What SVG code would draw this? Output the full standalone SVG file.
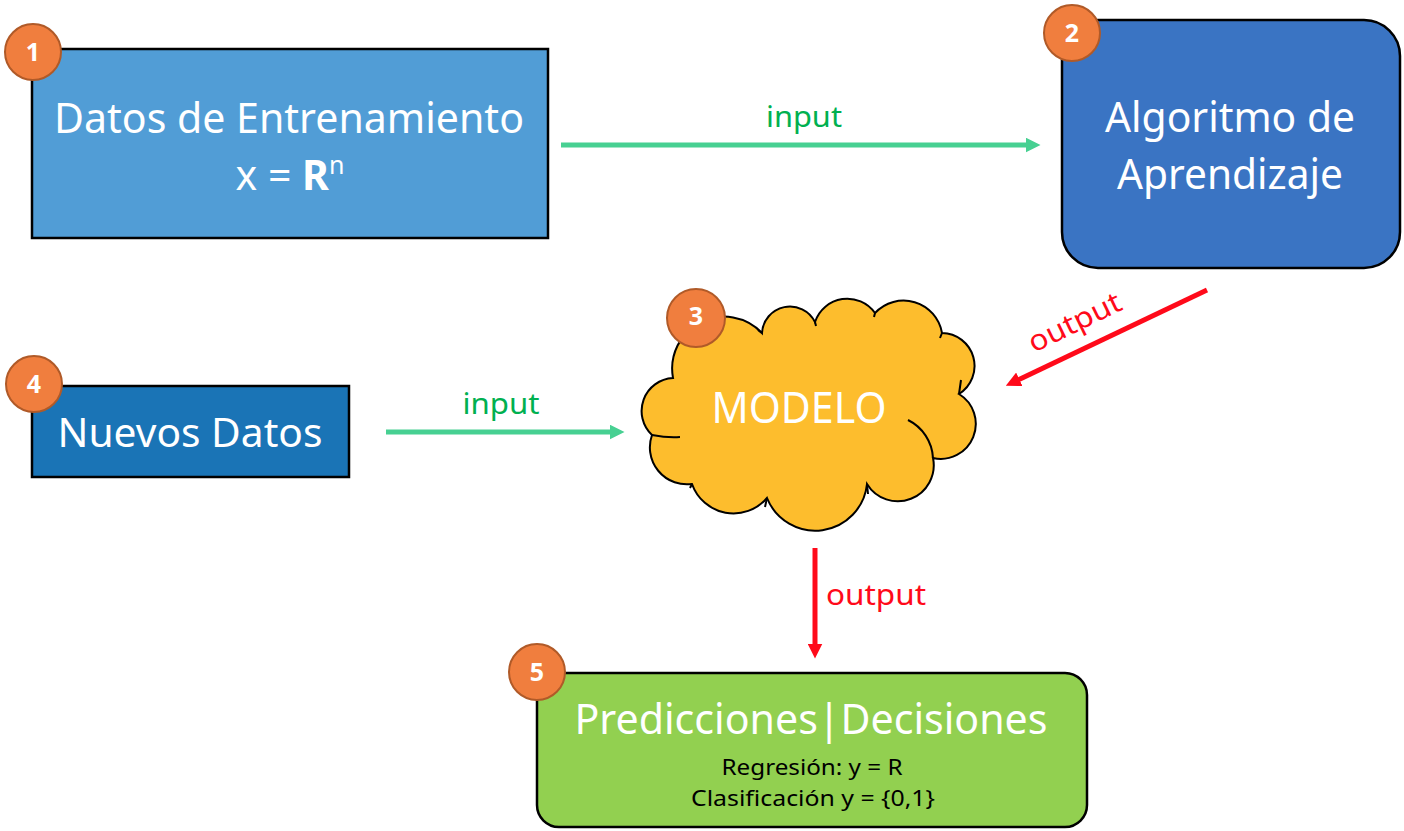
<svg xmlns="http://www.w3.org/2000/svg" width="1404" height="831" viewBox="0 0 1404 831">
<style>
.box{stroke:#000;stroke-width:2.5}
.big{font-family:"Noto Sans","Open Sans",sans-serif;fill:#fff;text-anchor:middle}
.small{font-family:"Noto Sans","Open Sans",sans-serif;fill:#000;text-anchor:middle;font-size:22px}
.badge circle{fill:#F07E3E;stroke:#B05A28;stroke-width:2}
.badge text{font-family:"Noto Sans","Open Sans",sans-serif;font-weight:bold;fill:#fff;text-anchor:middle;font-size:25px}
.g{stroke:#47D092;stroke-width:5;fill:none}
.r{stroke:#FF0A1A;stroke-width:5;fill:none}
.gl{font-family:"Noto Sans","Open Sans",sans-serif;fill:#00B050;font-size:29px;text-anchor:middle}
.rl{font-family:"Noto Sans","Open Sans",sans-serif;fill:#FF0A1A;font-size:29px;text-anchor:middle}
</style>
<defs>
<marker id="ag" viewBox="0 0 10 10" refX="1" refY="5" markerWidth="3" markerHeight="3" orient="auto"><path d="M0,0 L10,5 L0,10 z" fill="#47D092"/></marker>
<marker id="ar" viewBox="0 0 10 10" refX="1" refY="5" markerWidth="3" markerHeight="3" orient="auto"><path d="M0,0 L10,5 L0,10 z" fill="#FF0A1A"/></marker>
</defs>
<rect width="1404" height="831" fill="#fff"/>

<g id="connectors">
<line class="g" x1="561" y1="145" x2="1027" y2="145" marker-end="url(#ag)"/>
<text class="gl" x="804" y="127" textLength="76" lengthAdjust="spacingAndGlyphs">input</text>
<line class="g" x1="386" y1="432" x2="611" y2="432" marker-end="url(#ag)"/>
<text class="gl" x="501" y="414" textLength="77" lengthAdjust="spacingAndGlyphs">input</text>
<line class="r" x1="1207" y1="290" x2="1018" y2="380" marker-end="url(#ar)"/>
<text class="rl" transform="translate(1079,331) rotate(-26)" textLength="100" lengthAdjust="spacingAndGlyphs">output</text>
<line class="r" x1="815" y1="548" x2="815" y2="645" marker-end="url(#ar)"/>
<text class="rl" x="876" y="605" textLength="100" lengthAdjust="spacingAndGlyphs">output</text>
</g>

<g id="node1">
<rect class="box" x="32" y="49" width="516" height="189" fill="#519DD6"/>
<text class="big" x="289" y="133" font-size="42" textLength="470" lengthAdjust="spacingAndGlyphs">Datos de Entrenamiento</text>
<text class="big" x="290" y="190" font-size="41">x = <tspan font-weight="bold">R</tspan><tspan font-size="25" dy="-16">n</tspan></text>
</g>

<g id="node2">
<rect class="box" x="1062" y="20" width="338" height="248" rx="36" fill="#3A74C3"/>
<text class="big" x="1230" y="132" font-size="42" textLength="250" lengthAdjust="spacingAndGlyphs">Algoritmo de</text>
<text class="big" x="1230" y="189" font-size="42" textLength="226" lengthAdjust="spacingAndGlyphs">Aprendizaje</text>
</g>

<g id="node3">
<path d="M673,378 A52,52 0 0 1 762,333 A28,28 0 0 1 815,322 A34,34 0 0 1 875,313 A39,39 0 0 1 942,333 A33,33 0 0 1 959,394 A35,35 0 0 1 933,458 A36,36 0 0 1 867,484 A52,52 0 0 1 767,498 A44,44 0 0 1 692,484 A37,37 0 0 1 652,435 A33,33 0 0 1 673,378 Z" fill="#FDBD2D" stroke="#000" stroke-width="2"/>
<path d="M908,420 A45,45 0 0 1 933,458 M959,394 L961,380 M867,484 L868,494 M767,498 L765,507 M692,484 L690,488 M652,435 Q668,438 680,437 M762,333 L758,330 M815,322 L816,326 M875,313 L874,317 M942,333 L940,338" fill="none" stroke="#000" stroke-width="2"/>
<text class="big" x="799" y="423" font-size="43" textLength="175" lengthAdjust="spacingAndGlyphs">MODELO</text>
</g>

<g id="node4">
<rect class="box" x="32" y="386" width="317" height="91" fill="#1A74B6"/>
<text class="big" x="190" y="447" font-size="40" textLength="265" lengthAdjust="spacingAndGlyphs">Nuevos Datos</text>
</g>

<g id="node5">
<rect class="box" x="537" y="673" width="550" height="154" rx="22" fill="#92D050"/>
<text class="big" x="811" y="734" font-size="42" textLength="473" lengthAdjust="spacingAndGlyphs">Predicciones|Decisiones</text>
<text class="small" x="812" y="775" textLength="181" lengthAdjust="spacingAndGlyphs">Regresión: y = R</text>
<text class="small" x="813" y="806" textLength="244" lengthAdjust="spacingAndGlyphs">Clasificación y = {0,1}</text>
</g>

<g class="badge" id="badge1"><circle cx="33" cy="52" r="28"/><text x="33" y="61">1</text></g>
<g class="badge" id="badge2"><circle cx="1072" cy="33" r="28"/><text x="1072" y="42">2</text></g>
<g class="badge" id="badge3"><circle cx="696" cy="318" r="29"/><text x="696" y="325" font-size="19">3</text></g>
<g class="badge" id="badge4"><circle cx="34" cy="384" r="28"/><text x="34" y="393">4</text></g>
<g class="badge" id="badge5"><circle cx="537" cy="672" r="28"/><text x="537" y="681">5</text></g>
</svg>
